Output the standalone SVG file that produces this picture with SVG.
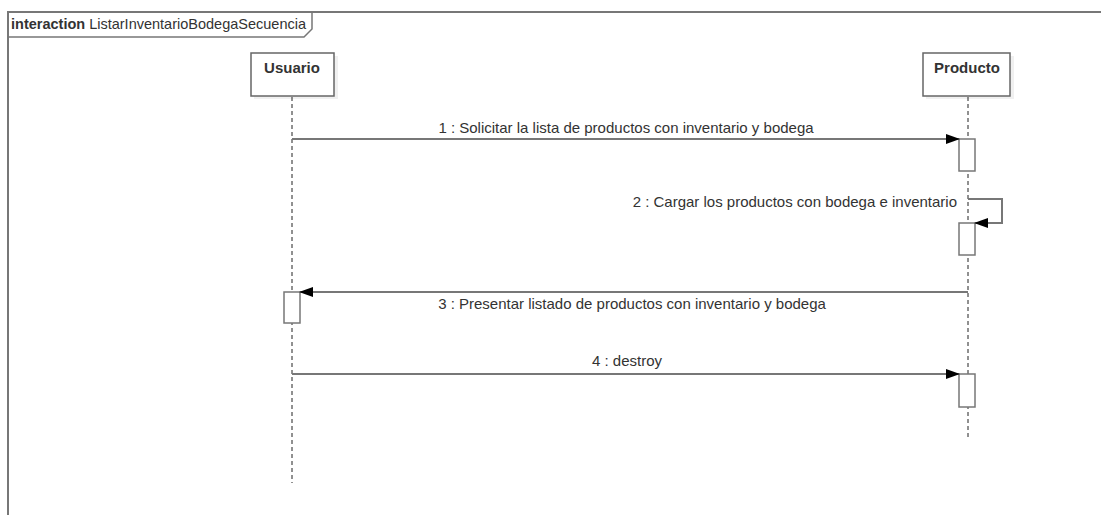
<svg xmlns="http://www.w3.org/2000/svg" width="1101" height="515" viewBox="0 0 1101 515">
<style>
text{font-family:"Liberation Sans",Arial,sans-serif;fill:#333;}
.lbl{font-size:15px;}
.hdr{font-size:14.5px;}
.name{font-size:15px;font-weight:bold;text-anchor:middle;}
.box{fill:#fff;stroke:#666;stroke-width:1.5;}
.shadow{fill:#f0f0f0;}
.life{stroke:#222;stroke-width:1;stroke-dasharray:4,3;fill:none;}
.act{fill:#fff;stroke:#777;stroke-width:1.5;}
.msg{stroke:#777;stroke-width:2;fill:none;}
</style>
<defs>
<marker id="arr" markerWidth="14" markerHeight="10" refX="13" refY="5" orient="auto" markerUnits="userSpaceOnUse">
<path d="M0,0 L14,5 L0,10 Z" fill="#000"/>
</marker>
</defs>
<rect x="0" y="0" width="1101" height="515" fill="#fff"/>
<g id="frame">
<path d="M8,515 L8,12 L1101,12" fill="none" stroke="#777" stroke-width="2"/>
<path d="M8,37 L304,37 L312,29 L312,12" fill="none" stroke="#777" stroke-width="1.5"/>
<text x="11" y="29" class="hdr"><tspan font-weight="bold">interaction</tspan> ListarInventarioBodegaSecuencia</text>
</g>
<g id="usuario">
<rect x="254" y="56" width="84" height="43" class="shadow"/>
<rect x="251" y="53" width="83" height="43" class="box"/>
<text x="292" y="73" class="name">Usuario</text>
<line x1="292" y1="97" x2="292" y2="483" class="life"/>
<rect x="284" y="292" width="16" height="31" class="act"/>
</g>
<g id="producto">
<rect x="926" y="56" width="88" height="43" class="shadow"/>
<rect x="923" y="53" width="87" height="43" class="box"/>
<text x="967" y="73" class="name">Producto</text>
<line x1="968" y1="97" x2="968" y2="439" class="life"/>
<rect x="959" y="139" width="16" height="32" class="act"/>
<rect x="959" y="223" width="16" height="32" class="act"/>
<rect x="959" y="374" width="16" height="33" class="act"/>
</g>
<g id="connectors">
<line x1="292" y1="139" x2="959" y2="139" class="msg" marker-end="url(#arr)"/>
<text x="626" y="133" class="lbl" text-anchor="middle">1 : Solicitar la lista de productos con inventario y bodega</text>
<path d="M968,199 L1002,199 L1002,223 L975,223" class="msg" marker-end="url(#arr)"/>
<text x="957" y="207" class="lbl" text-anchor="end">2 : Cargar los productos con bodega e inventario</text>
<line x1="968" y1="292" x2="300" y2="292" class="msg" marker-end="url(#arr)"/>
<text x="632" y="309" class="lbl" text-anchor="middle">3 : Presentar listado de productos con inventario y bodega</text>
<line x1="292" y1="374" x2="959" y2="374" class="msg" marker-end="url(#arr)"/>
<text x="627" y="366" class="lbl" text-anchor="middle">4 : destroy</text>
</g>
</svg>
